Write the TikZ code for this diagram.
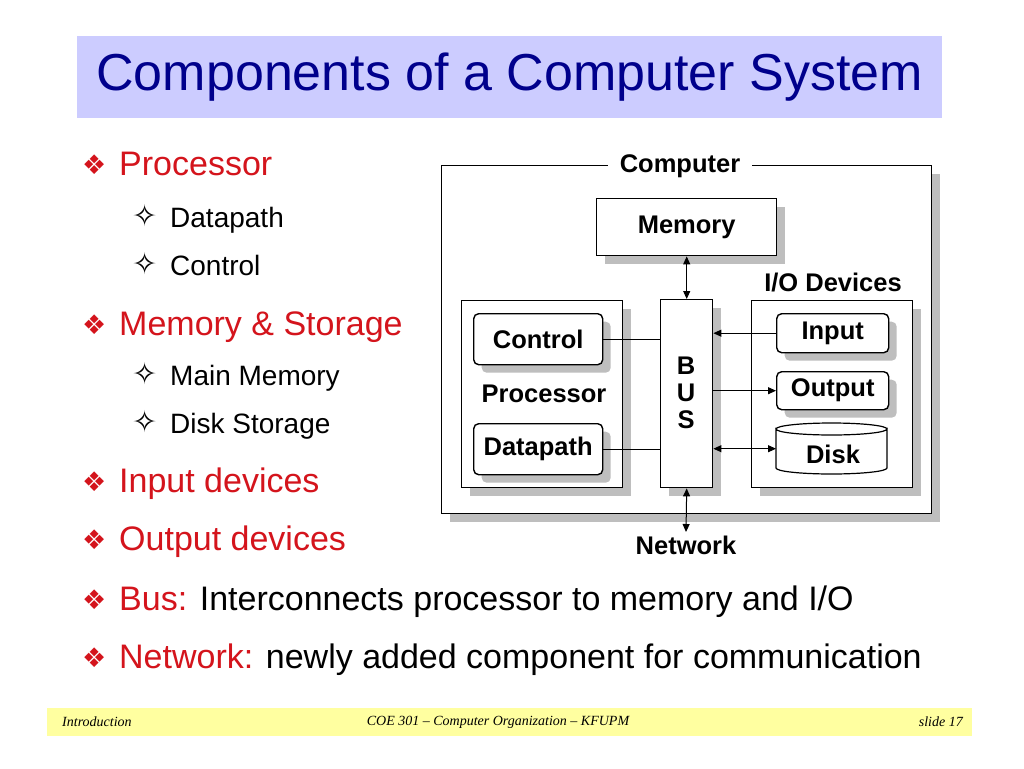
\documentclass[tikz,border=0pt]{standalone}
\usepackage{fontspec}
\setmainfont{Liberation Sans}
\newfontfamily\symfont{DejaVu Sans}
\newfontfamily\footfont{Liberation Serif}
\usetikzlibrary{shadows,arrows.meta}
\definecolor{titlebg}{RGB}{204,204,255}
\definecolor{titlefg}{RGB}{0,0,140}
\definecolor{footbg}{RGB}{255,255,160}
\definecolor{redtxt}{RGB}{212,20,28}
\definecolor{shadowgray}{RGB}{190,190,190}
\tikzset{
  shd/.style={drop shadow={shadow xshift=8pt,shadow yshift=-8pt,opacity=1,fill=shadowgray}},
  box/.style={draw,line width=1.4pt,fill=white,shd,inner sep=0pt},
  rbox/.style={box,rounded corners=5pt,font=\fontsize{25.5}{30}\selectfont\bfseries},
  lbl/.style={font=\fontsize{25.5}{30}\selectfont\bfseries,inner sep=0pt},
  main/.style={anchor=base west,inner sep=0pt,font=\fontsize{34}{40}\selectfont,text=redtxt},
  sub/.style={anchor=base west,inner sep=0pt,font=\fontsize{28}{33}\selectfont},
  bul/.style={anchor=base west,inner sep=0pt,font=\symfont\fontsize{27}{32}\selectfont,text=redtxt},
  sbul/.style={anchor=base west,inner sep=0pt,font=\symfont\fontsize{30}{36}\selectfont},
  conn/.style={line width=1pt},
  tip/.style={-{Triangle[length=8pt,width=7pt]}},
  dtip/.style={{Triangle[length=8pt,width=7pt]}-{Triangle[length=8pt,width=7pt]}},
  foot/.style={font=\footfont\itshape\fontsize{14}{16}\selectfont,inner sep=0pt}
}
\begin{document}
\begin{tikzpicture}[x=1pt,y=-1pt]
\useasboundingbox (0,0) rectangle (1024,768);
\fill[white] (0,0) rectangle (1024,768);
% title
\node[fill=titlebg,minimum width=865pt,minimum height=82pt,anchor=north west,inner sep=0pt] (titlebar) at (77,36) {};
\node[text=titlefg,font=\fontsize{52}{60}\selectfont,inner sep=0pt] (title) at (titlebar.center) {Components of a Computer System};
% footer
\node[fill=footbg,minimum width=925pt,minimum height=28pt,anchor=north west,inner sep=0pt] (footbar) at (47,708) {};
\node[foot,anchor=west] (f1) at (62,722) {Introduction};
\node[foot] (f2) at (498,722) {COE 301 – Computer Organization – KFUPM};
\node[foot,anchor=east] (f3) at (963,722) {slide 17};
% bullets
\node[bul] (b1) at (82,174) {❖};
\node[main] (t1) at (119,175) {Processor};
\node[sbul] (s1) at (132,226) {✧};
\node[sub] (u1) at (170,227) {Datapath};
\node[sbul] (s2) at (132,274) {✧};
\node[sub] (u2) at (170,275) {Control};
\node[bul] (b2) at (82,334) {❖};
\node[main] (t2) at (119,335) {Memory \& Storage};
\node[sbul] (s3) at (132,384) {✧};
\node[sub] (u3) at (170,385) {Main Memory};
\node[sbul] (s4) at (132,432) {✧};
\node[sub] (u4) at (170,433) {Disk Storage};
\node[bul] (b3) at (82,491) {❖};
\node[main] (t3) at (119,492) {Input devices};
\node[bul] (b4) at (82,549) {❖};
\node[main] (t4) at (119,550) {Output devices};
\node[bul] (b5) at (82,609) {❖};
\node[main] (t5) at (119,610) {Bus: \textcolor{black}{Interconnects processor to memory and I/O}};
\node[bul] (b6) at (82,667) {❖};
\node[main] (t6) at (119,668) {Network: \textcolor{black}{newly added component for communication}};
% diagram
\node[box,minimum width=490pt,minimum height=348pt,anchor=north west] (computer) at (441,165) {};
\node[lbl,fill=white,inner xsep=12pt,inner ysep=2pt] (complbl) at (680,166) {Computer};
\node[box,minimum width=180pt,minimum height=57pt,anchor=north west,font=\fontsize{25.5}{30}\selectfont\bfseries] (memory) at (596,198) {Memory};
\node[box,minimum width=161pt,minimum height=187pt,anchor=north west] (proc) at (461,300) {};
\node[box,minimum width=52pt,minimum height=188pt,anchor=north west] (bus) at (660,299) {};
\node[lbl] (bB) at (686,366) {B};
\node[lbl] (bU) at (686,393) {U};
\node[lbl] (bS) at (686,420) {S};
\node[box,minimum width=161pt,minimum height=187pt,anchor=north west] (io) at (751,300) {};
\node[lbl] (iolbl) at (833,283) {I/O Devices};
\node[lbl] (proclbl) at (544,394) {Processor};
\node[rbox,minimum width=129pt,minimum height=51pt,anchor=north west] (control) at (473,313) {Control};
\node[rbox,minimum width=129pt,minimum height=51pt,anchor=north west] (datapath) at (473,423) {Datapath};
\node[rbox,minimum width=112pt,minimum height=39pt,anchor=north west] (input) at (776,313) {Input};
\node[rbox,minimum width=112pt,minimum height=38pt,anchor=north west] (output) at (776,371) {Output};
% disk cylinder
\node[minimum width=111pt,minimum height=51pt,anchor=north west,inner sep=0pt] (disk) at (776,423) {};
\draw[line width=1.2pt,fill=white] (776,429) -- (776,468) arc[start angle=180,end angle=360,x radius=55.5pt,y radius=6pt] -- (887,429) arc[start angle=0,end angle=-180,x radius=55.5pt,y radius=6pt] -- cycle;
\draw[line width=1.2pt] (776,429) arc[start angle=180,end angle=360,x radius=55.5pt,y radius=-6pt];
\node[lbl] (disklbl) at (833,454) {Disk};
% connectors
\draw[conn,dtip] (memory.south) -- (bus.north);
\draw[conn] (control.east) -- (control.east -| bus.west);
\draw[conn] (datapath.east) -- (datapath.east -| bus.west);
\draw[conn,tip] (input.west) -- (input.west -| bus.east);
\draw[conn,tip] (output.west -| bus.east) -- (output.west);
\draw[conn,dtip] (disk.west -| bus.east) -- (disk.west);
\coordinate (netend) at (686,532);
\draw[conn,dtip] (bus.south) -- (netend);
\node[lbl,anchor=north] (network) at (686,536) {Network};
\end{tikzpicture}
\end{document}
